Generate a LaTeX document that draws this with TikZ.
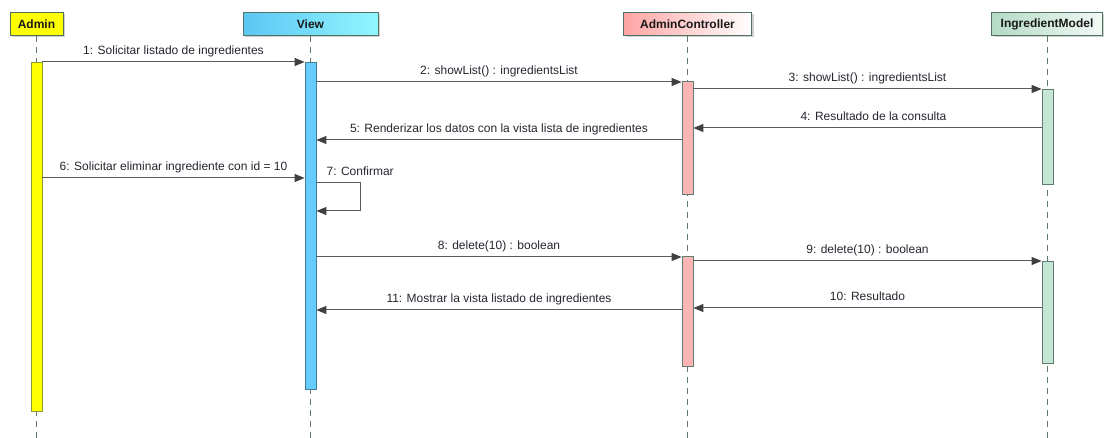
\documentclass[tikz,border=0pt]{standalone}
\usepackage{fontspec}
\setmainfont{Liberation Sans}
\usetikzlibrary{arrows.meta,shadows}

\definecolor{frame}{HTML}{4F7262}
\definecolor{lifeln}{HTML}{5E7A70}
\definecolor{msgln}{HTML}{5A5A5A}
\definecolor{tip}{HTML}{404040}
\definecolor{txt}{HTML}{2A2430}
\definecolor{adminfill}{HTML}{FFFF00}
\definecolor{adminedge}{HTML}{8A9A3A}
\definecolor{viewL}{HTML}{5BC6F4}
\definecolor{viewR}{HTML}{92F6FF}
\definecolor{viewbar}{HTML}{66CCFF}
\definecolor{viewedge}{HTML}{3F8090}
\definecolor{ctrlL}{HTML}{FFA4A4}
\definecolor{ctrlR}{HTML}{FFFFFF}
\definecolor{ctrlbar}{HTML}{FFB4B4}
\definecolor{modelL}{HTML}{B4DAC6}
\definecolor{modelR}{HTML}{F2F9F5}
\definecolor{modelbar}{HTML}{C4E6D4}
\definecolor{baredge}{HTML}{5F7E70}

\begin{document}
\begin{tikzpicture}[x=1pt,y=-1pt,
  head/.style={draw=frame, line width=1pt, minimum height=23pt, inner sep=0pt,
    text=black!90, font=\bfseries\fontsize{12}{14}\selectfont,
    drop shadow={shadow xshift=2pt, shadow yshift=-2pt, fill=black!30, opacity=.6}},
  bar/.style={line width=0.8pt, minimum width=11pt, inner sep=0pt, anchor=north},
  life/.style={draw=lifeln, line width=0.9pt, dash pattern=on 6pt off 5pt},
  msg/.style={draw=msgln, line width=1pt,
    -{Triangle[length=10pt,width=8pt,fill=tip,color=tip]}},
  lbl/.style={anchor=base, yshift=7pt, inner sep=0pt, text=txt,
    font=\fontsize{12}{14}\selectfont}
]
\useasboundingbox (0,0) rectangle (1104,438);
\fill[white] (0,0) rectangle (1104,438);

% participant headers
\node[head, fill=adminfill, minimum width=53pt] (hA) at (36.5,24) {Admin};
\node[head, left color=viewL, right color=viewR, minimum width=135pt] (hV) at (310.5,24) {View};
\node[head, left color=ctrlL, right color=ctrlR, minimum width=128pt] (hC) at (687.5,24) {AdminController};
\node[head, left color=modelL, right color=modelR, minimum width=111pt] (hM) at (1047,24) {IngredientModel};

% lifelines
\coordinate (bottom) at (0,438);
\foreach \h in {hA,hV,hC,hM}
  \draw[life] (\h.south) -- (\h.south |- bottom);

% activation bars
\node[bar, draw=adminedge, fill=adminfill, minimum height=349pt] (bA) at (36.5,62) {};
\node[bar, draw=viewedge, fill=viewbar, minimum height=327pt] (bV) at (310.5,62) {};
\node[bar, draw=baredge, fill=ctrlbar, minimum height=113pt] (bC1) at (687.5,81) {};
\node[bar, draw=baredge, fill=modelbar, minimum height=95pt] (bM1) at (1047.5,89) {};
\node[bar, draw=baredge, fill=ctrlbar, minimum height=110pt] (bC2) at (687.5,256) {};
\node[bar, draw=baredge, fill=modelbar, minimum height=102pt] (bM2) at (1047.5,261) {};

% message heights
\coordinate (y1) at (0,62);
\coordinate (y2) at (0,82);
\coordinate (y3) at (0,89);
\coordinate (y4) at (0,128);
\coordinate (y5) at (0,140);
\coordinate (y6) at (0,178);
\coordinate (y7a) at (0,183);
\coordinate (y7b) at (0,211);
\coordinate (y8) at (0,257);
\coordinate (y9) at (0,261);
\coordinate (y10) at (0,308);
\coordinate (y11) at (0,310);
\coordinate (loopx) at (360,0);

% messages
\draw[msg] (bA.east |- y1) -- (bV.west |- y1)
  node[lbl, midway] {1: Solicitar listado de ingredientes};
\draw[msg] (bV.east |- y2) -- (bC1.west |- y2)
  node[lbl, midway] {2: showList() : ingredientsList};
\draw[msg] (bC1.east |- y3) -- (bM1.west |- y3)
  node[lbl, midway] {3: showList() : ingredientsList};
\draw[msg] (bM1.west |- y4) -- (bC1.east |- y4)
  node[lbl, midway, xshift=6pt] {4: Resultado de la consulta};
\draw[msg] (bC1.west |- y5) -- (bV.east |- y5)
  node[lbl, midway] {5: Renderizar los datos con la vista lista de ingredientes};
\draw[msg] (bA.east |- y6) -- (bV.west |- y6)
  node[lbl, midway] {6: Solicitar eliminar ingrediente con id = 10};
\draw[msg] (bV.east |- y7a) -- (loopx |- y7a) -- (loopx |- y7b) -- (bV.east |- y7b);
\node[lbl, anchor=base west] (l7) at ([xshift=10pt]bV.east |- y7a) {7: Confirmar};
\draw[msg] (bV.east |- y8) -- (bC2.west |- y8)
  node[lbl, midway] {8: delete(10) : boolean};
\draw[msg] (bC2.east |- y9) -- (bM2.west |- y9)
  node[lbl, midway] {9: delete(10) : boolean};
\draw[msg] (bM2.west |- y10) -- (bC2.east |- y10)
  node[lbl, midway] {10: Resultado};
\draw[msg] (bC2.west |- y11) -- (bV.east |- y11)
  node[lbl, midway] {11: Mostrar la vista listado de ingredientes};
\end{tikzpicture}
\end{document}
